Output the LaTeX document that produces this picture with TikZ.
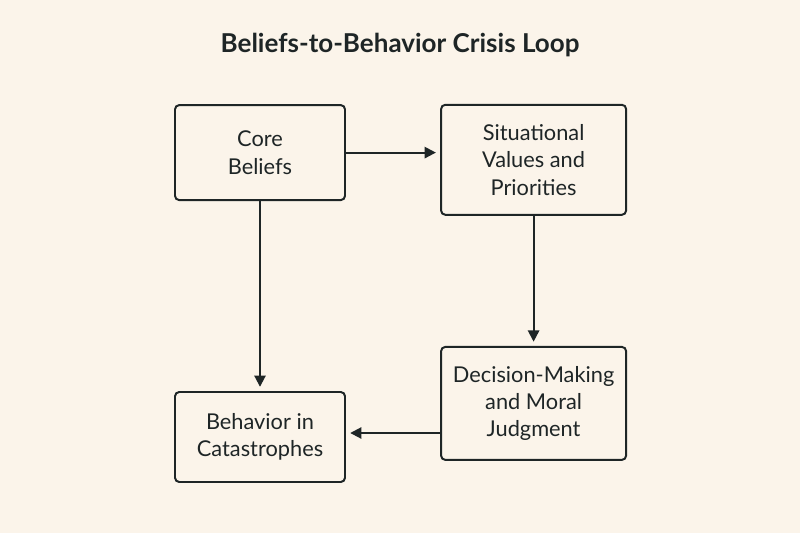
\documentclass[tikz,border=0pt]{standalone}
\usepackage{fontspec}
\setmainfont{Lato}
\usetikzlibrary{arrows.meta}
\definecolor{cream}{HTML}{FBF4EA}
\definecolor{ink}{HTML}{1E2526}
\begin{document}
\begin{tikzpicture}[box/.style={rectangle, draw=ink, line width=1.4pt, rounded corners=3pt, fill=cream, align=center, text=ink, font=\fontsize{15.5}{19.5}\selectfont, inner sep=0pt}, flow/.style={-{Triangle[length=8pt,width=8pt]}, draw=ink, line width=1.4pt, shorten >=3pt}]
	\fill[cream] (0,0) rectangle (20,13.325);
	\useasboundingbox (0,0) rectangle (20,13.325);
	% title
	\node[text=ink, font=\bfseries\fontsize{18.5}{22}\selectfont] (title) at (10,12.2) {Beliefs-to-Behavior Crisis Loop};

	% nodes
	\node[box, minimum width=4.25cm, minimum height=2.375cm] (core) at (6.5,9.51) {Core\\Beliefs};
	\node[box, minimum width=4.625cm, minimum height=2.75cm] (values) at (13.34,9.33) {Situational\\Values and\\Priorities};
	\node[box, minimum width=4.625cm, minimum height=2.825cm] (decision) at (13.34,3.24) {Decision-Making\\and Moral\\Judgment};
	\node[box, minimum width=4.25cm, minimum height=2.25cm] (behavior) at (6.5,2.4) {Behavior in\\Catastrophes};

	% edges
	\draw[flow] (core.east) -- (core.east -| values.west);
	\draw[flow] (values.south) -- (decision.north);
	\draw[flow] (core.south) -- (behavior.north);
	\draw[flow] (decision.west |- 0,2.5) -- (behavior.east |- 0,2.5);
\end{tikzpicture}
\end{document}
